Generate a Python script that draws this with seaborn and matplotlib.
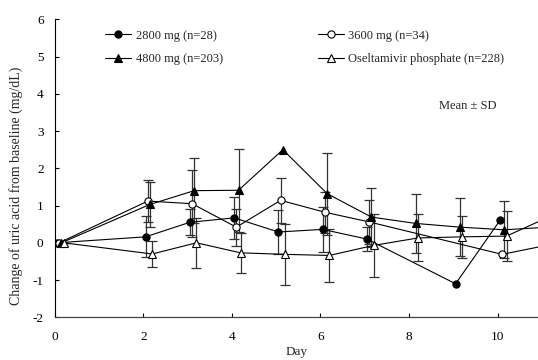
import numpy as np
import matplotlib
matplotlib.use("Agg")
import matplotlib.pyplot as plt
import seaborn as sns

nan = np.nan

# ---- data ----
days_2800 = [0, 2, 3, 4, 5, 6, 7, 9, 10]
mean_2800 = [0, 0.16, 0.55, 0.67, 0.29, 0.36, 0.10, -1.10, 0.60]
sd_2800 = [0, 0.55, 0.35, 0.56, 0.60, 0.60, 0.33, nan, nan]

days_3600 = [0, 2, 3, 4, 5, 6, 7, 10, 11]
mean_3600 = [0, 1.12, 1.05, 0.42, 1.14, 0.82, 0.56, -0.31, -0.07]
sd_3600 = [0, 0.56, 0.90, 0.50, 0.61, 0.55, 0.60, nan, nan]

days_4800 = [0, 2, 3, 4, 5, 6, 7, 8, 9, 10, 11]
mean_4800 = [0, 1.03, 1.40, 1.41, 2.50, 1.32, 0.69, 0.52, 0.42, 0.35, 0.42]
sd_4800 = [0, 0.60, 0.88, 1.12, nan, 1.10, 0.79, 0.80, 0.78, 0.77, nan]

days_osel = [0, 2, 3, 4, 5, 6, 7, 8, 9, 10, 11]
mean_osel = [0, -0.30, 0.00, -0.27, -0.31, -0.34, -0.07, 0.13, 0.16, 0.18, 0.72]
sd_osel = [0, 0.35, 0.67, 0.53, 0.81, 0.71, 0.85, 0.63, 0.56, 0.67, nan]

labels = ["2800 mg (n=28)", "3600 mg (n=34)", "4800 mg (n=203)",
          "Oseltamivir phosphate (n=228)"]
x_ticks = [0, 2, 4, 6, 8, 10]
y_ticks = [-2, -1, 0, 1, 2, 3, 4, 5, 6]

# ---- style ----
sns.set_style("ticks")
plt.rcParams["font.family"] = ["Liberation Serif", "DejaVu Serif"]
plt.rcParams["font.size"] = 9.5
plt.rcParams["axes.unicode_minus"] = False

fig = plt.figure(figsize=(5.38, 3.60), dpi=100)
ax = fig.add_axes([0.1017, 0.1186, 0.8983, 0.8278])

series = [
    (days_2800, mean_2800, sd_2800, labels[0], "o", "black", 0.05),
    (days_3600, mean_3600, sd_3600, labels[1], "o", "white", 0.10),
    (days_4800, mean_4800, sd_4800, labels[2], "^", "black", 0.15),
    (days_osel, mean_osel, sd_osel, labels[3], "^", "white", 0.20),
]

for d, m, s, lab, mk, fc, off in series:
    x = np.asarray(d, float) + off
    ax.errorbar(x, m, yerr=s, fmt="none", ecolor="#333333", elinewidth=0.9,
                capsize=3.6, capthick=0.9, zorder=2)
    sns.lineplot(x=x, y=m, ax=ax, color="black", linewidth=0.8, marker=mk,
                 markersize=5.2 if mk == "o" else 5.6,
                 markerfacecolor=fc, markeredgecolor="black",
                 markeredgewidth=0.8, label=lab, zorder=3, sort=True)

ax.set_xlim(0, 10.91)
ax.set_ylim(-2, 6)
ax.set_xticks(x_ticks)
ax.set_yticks(y_ticks)
ax.tick_params(axis="both", direction="in", length=3, width=0.8,
               colors="black", labelsize=9.5)
ax.tick_params(axis="y", pad=8)
ax.tick_params(axis="x", pad=10)
for sp in ["top", "right"]:
    ax.spines[sp].set_visible(False)
ax.spines["left"].set_color("black")
ax.spines["bottom"].set_color("#444444")
ax.spines["left"].set_linewidth(0.8)
ax.spines["bottom"].set_linewidth(0.9)

ax.set_xlabel("Day", fontsize=9.5, labelpad=2)
ax.set_ylabel("Change of uric acid from baseline (mg/dL)", fontsize=10)
ax.yaxis.set_label_coords(-0.0646, 0.44)

handles, labs = ax.get_legend_handles_labels()
order = [0, 2, 1, 3]
leg = ax.legend([handles[i] for i in order], [labs[i] for i in order],
                ncol=2, frameon=False, loc="upper left",
                bbox_to_anchor=(0.195, 0.918), bbox_transform=fig.transFigure,
                borderpad=0, borderaxespad=0, handlelength=2.1,
                handletextpad=0.35, columnspacing=7.6, labelspacing=0.95,
                fontsize=9)

ax.text(0.816, 0.705, "Mean \u00b1 SD", transform=fig.transFigure,
        fontsize=9, ha="left", va="center")

fig.savefig("out.png", dpi=100)
